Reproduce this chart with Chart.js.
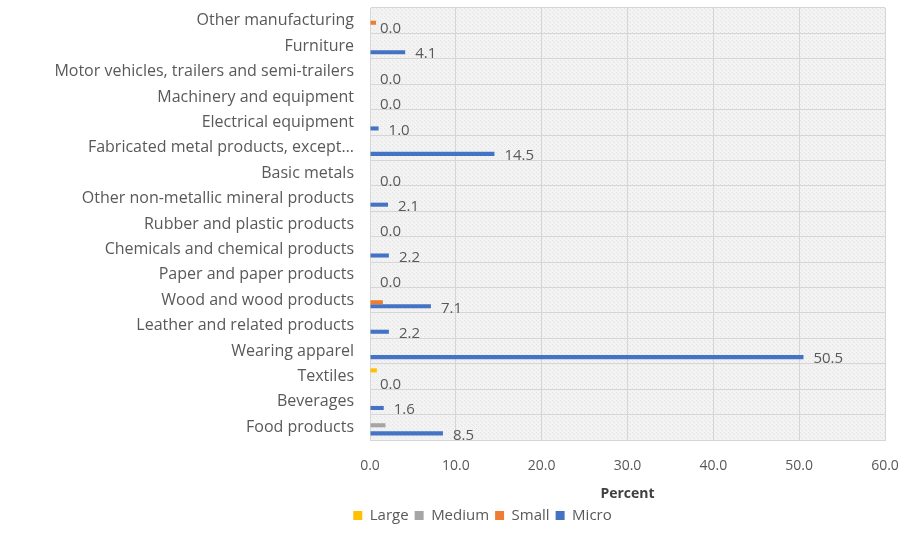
<!DOCTYPE html>
<html>
<head>
<meta charset="utf-8">
<script src="https://cdn.jsdelivr.net/npm/chart.js@4.4.0/dist/chart.umd.min.js"></script>
<style>
  html, body { margin: 0; padding: 0; background: #fff; }
  #wrap { width: 921px; height: 534px; }
</style>
</head>
<body>
<div id="wrap"><canvas id="sectorChart"></canvas></div>
<script>
// sectors listed top to bottom
const sectors = [
    'Other manufacturing',
    'Furniture',
    'Motor vehicles, trailers and semi-trailers',
    'Machinery and equipment',
    'Electrical equipment',
    'Fabricated metal products, except…',
    'Basic metals',
    'Other non-metallic mineral products',
    'Rubber and plastic products',
    'Chemicals and chemical products',
    'Paper and paper products',
    'Wood and wood products',
    'Leather and related products',
    'Wearing apparel',
    'Textiles',
    'Beverages',
    'Food products'
];

const large  = [0, 0, 0, 0, 0, 0, 0, 0, 0, 0, 0, 0, 0, 0, 0.8, 0, 0];
const medium = [0, 0, 0, 0, 0, 0, 0, 0, 0, 0, 0, 0, 0, 0, 0, 0, 1.8];
const small  = [0.7, 0, 0, 0, 0, 0, 0, 0, 0, 0, 0, 1.5, 0, 0, 0, 0, 0];
const micro  = [0.0, 4.1, 0.0, 0.0, 1.0, 14.5, 0.0, 2.1, 0.0, 2.2, 0.0, 7.1, 2.2, 50.5, 0.0, 1.6, 8.5];

const xTicks = [0, 10, 20, 30, 40, 50, 60];

const FONT = '"Open Sans", Lato, sans-serif';
const TEXT = '#595959';
const GRID = '#d6d6d6';

// --- light dotted fill for the plot area ---
function makeHatch(ctx) {
    const c = document.createElement('canvas');
    c.width = 4; c.height = 4;
    const g = c.getContext('2d');
    g.fillStyle = '#f3f3f3';
    g.fillRect(0, 0, 4, 4);
    g.fillStyle = '#e4e4e4';
    g.fillRect(0, 0, 1, 1);
    g.fillRect(2, 2, 1, 1);
    g.fillStyle = '#ebebeb';
    g.fillRect(1, 1, 1, 1);
    return ctx.createPattern(c, 'repeat');
}

const plotBackground = {
    id: 'plotBackground',
    beforeDraw(chart) {
        const { ctx, chartArea: a } = chart;
        ctx.save();
        ctx.fillStyle = makeHatch(ctx);
        ctx.fillRect(a.left, a.top, a.right - a.left, a.bottom - a.top);
        ctx.restore();
    }
};

// --- value labels next to the Micro bars ---
const microLabels = {
    id: 'microLabels',
    afterDatasetsDraw(chart) {
        const { ctx } = chart;
        const meta = chart.getDatasetMeta(3);
        ctx.save();
        ctx.font = '15px ' + FONT;
        ctx.fillStyle = TEXT;
        ctx.textAlign = 'left';
        ctx.textBaseline = 'middle';
        meta.data.forEach((bar, i) => {
            ctx.fillText(micro[i].toFixed(1), bar.x + 10, bar.y + 2);
        });
        ctx.restore();
    }
};

// nudge the legend row to the right, under the plot
const legendShift = {
    id: 'legendShift',
    afterLayout(chart) {
        chart.legend.left += 40;
        chart.legend.right += 40;
    }
};

const series = [
    { label: 'Large',  data: large,  color: '#ffc000' },
    { label: 'Medium', data: medium, color: '#a5a5a5' },
    { label: 'Small',  data: small,  color: '#ed7d31' },
    { label: 'Micro',  data: micro,  color: '#4472c4' }
];

new Chart(document.getElementById('sectorChart'), {
    type: 'bar',
    data: {
        labels: sectors,
        datasets: series.map(s => ({
            label: s.label,
            data: s.data,
            backgroundColor: s.color,
            borderWidth: 0,
            categoryPercentage: 0.64,
            barPercentage: 1.0
        }))
    },
    options: {
        indexAxis: 'y',
        responsive: true,
        maintainAspectRatio: false,
        animation: false,
        layout: { padding: { top: 8, right: 36, bottom: 1, left: 0 } },
        plugins: {
            legend: {
                position: 'bottom',
                labels: {
                    boxWidth: 9,
                    boxHeight: 9,
                    padding: 6,
                    color: TEXT,
                    font: { family: FONT, size: 15 }
                }
            },
            tooltip: { enabled: false }
        },
        scales: {
            x: {
                min: 0,
                max: 60,
                afterBuildTicks(scale) {
                    scale.ticks = xTicks.map(v => ({ value: v }));
                },
                afterFit(scale) {
                    scale.height = 62;
                },
                ticks: {
                    color: TEXT,
                    padding: 18,
                    font: { family: FONT, size: 14 },
                    callback: v => Number(v).toFixed(1)
                },
                grid: { color: GRID, drawTicks: false },
                border: { color: GRID },
                title: {
                    display: true,
                    text: 'Percent',
                    color: '#404040',
                    font: { family: FONT, size: 14, weight: 'bold' },
                    padding: { top: 6, bottom: 0 }
                }
            },
            y: {
                afterFit(scale) {
                    scale.width = 370;
                    scale.paddingTop = 0;
                    scale.paddingBottom = 0;
                },
                ticks: {
                    color: TEXT,
                    padding: 16,
                    autoSkip: false,
                    font: { family: FONT, size: 16 }
                },
                grid: { color: GRID, drawTicks: false },
                border: { color: GRID }
            }
        }
    },
    plugins: [plotBackground, microLabels, legendShift]
});
</script>
</body>
</html>
